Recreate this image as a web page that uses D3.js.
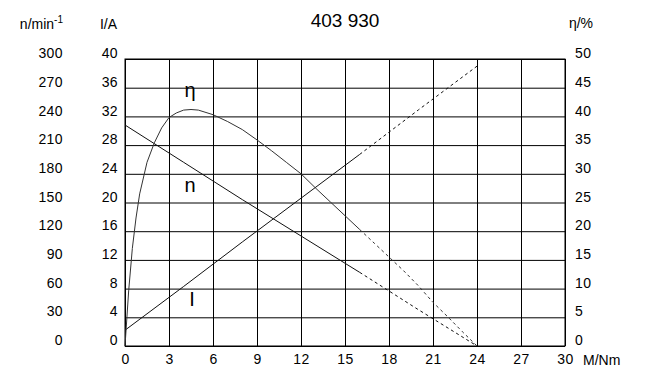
<!DOCTYPE html>
<html>
<head>
<meta charset="utf-8">
<script src="https://cdn.jsdelivr.net/npm/d3@7"></script>
<style>
  body { margin: 0; background: #fff; }
  svg { font-family: "Liberation Sans", Arial, sans-serif; }
</style>
</head>
<body>
<div id="chart"></div>
<script>
// values
var xTicks = [0, 3, 6, 9, 12, 15, 18, 21, 24, 27, 30];
var iTicks = [0, 4, 8, 12, 16, 20, 24, 28, 32, 36, 40];
var nTicks = [0, 30, 60, 90, 120, 150, 180, 210, 240, 270, 300];
var etaTicks = [0, 5, 10, 15, 20, 25, 30, 35, 40, 45, 50];

// current I/A
var curM = [0, 4, 8, 12, 16, 20, 24];
var curI = [2.2, 8.3, 14.5, 20.6, 26.7, 32.9, 39.0];
// speed n/min-1
var spdM = [0, 4, 8, 12, 16, 20, 24];
var spdN = [231, 192, 153, 115, 77, 38, 0];
// efficiency η/%
var effM = [0, 0.25, 0.5, 0.75, 1, 1.5, 2, 2.5, 3, 3.5, 4, 4.5, 5, 6, 7, 8, 9, 10, 11, 12, 13, 14, 15, 16, 17, 18, 19, 20, 21, 22, 23, 24];
var effEta = [0, 9.6, 17, 22.3, 26.5, 32, 35.4, 38, 39.8, 40.6, 41.1, 41.2, 41.1, 40.3, 39.1, 37.7, 35.9, 34, 32, 30, 27.5, 25.1, 22.7, 20.3, 17.9, 15.5, 13.1, 10.5, 7.6, 5.1, 2.5, 0];

var splitM = 16; // solid up to here, dashed after

var W = 645, H = 367;
var pLeft = 125, pRight = 565, pTop = 59, pBottom = 346;

var svg = d3.select("#chart").append("svg")
    .attr("width", W)
    .attr("height", H);

var x = d3.scaleLinear().domain([0, 30]).range([pLeft, pRight]);
var yI = d3.scaleLinear().domain([0, 40]).range([pBottom, pTop]);
var yN = d3.scaleLinear().domain([0, 300]).range([pBottom, pTop]);
var yE = d3.scaleLinear().domain([0, 50]).range([pBottom, pTop]);

// grid
svg.append("g")
    .attr("transform", "translate(0," + pBottom + ")")
    .call(d3.axisBottom(x).tickValues(xTicks).tickSize(-(pBottom - pTop)).tickFormat(""))
    .call(function(g) { g.select(".domain").remove(); })
    .selectAll("line").attr("stroke", "#000");

svg.append("g")
    .attr("transform", "translate(" + pLeft + ",0)")
    .call(d3.axisLeft(yI).tickValues(iTicks).tickSize(-(pRight - pLeft)).tickFormat(""))
    .call(function(g) { g.select(".domain").remove(); })
    .selectAll("line").attr("stroke", "#000");

svg.append("rect")
    .attr("x", pLeft).attr("y", pTop)
    .attr("width", pRight - pLeft).attr("height", pBottom - pTop)
    .attr("fill", "none").attr("stroke", "#000");

// tick labels
function labels(g) {
  g.select(".domain").remove();
  g.selectAll("line").remove();
  g.selectAll("text").attr("font-size", "14px").attr("fill", "#000")
      .style("letter-spacing", "0.4px");
  g.attr("font-family", null).attr("font-size", null);
}

svg.append("g")
    .attr("transform", "translate(0," + pBottom + ")")
    .call(d3.axisBottom(x).tickValues(xTicks).tickSize(0).tickPadding(8))
    .call(labels);

svg.append("g")
    .attr("transform", "translate(63,0)")
    .call(d3.axisLeft(yN).tickValues(nTicks).tickSize(0).tickPadding(0))
    .call(labels)
    .selectAll("text").attr("dy", "-0.1em");

svg.append("g")
    .attr("transform", "translate(118,0)")
    .call(d3.axisLeft(yI).tickValues(iTicks).tickSize(0).tickPadding(0))
    .call(labels)
    .selectAll("text").attr("dy", "-0.1em");

svg.append("g")
    .attr("transform", "translate(575,0)")
    .call(d3.axisRight(yE).tickValues(etaTicks).tickSize(0).tickPadding(0))
    .call(labels)
    .selectAll("text").attr("dy", "-0.1em");

// axis titles
var nt = svg.append("text").attr("x", 63).attr("y", 29).attr("font-size", "14px")
    .attr("text-anchor", "end").text("n/min");
nt.append("tspan").attr("dy", "-6").attr("font-size", "10px").text("-1");
svg.append("text").attr("x", 117).attr("y", 29).attr("font-size", "14px")
    .attr("text-anchor", "end").text("I/A");
svg.append("text").attr("x", 593).attr("y", 28).attr("font-size", "14px")
    .attr("text-anchor", "end").text("η/%");
svg.append("text").attr("x", 583).attr("y", 365).attr("font-size", "14px").text("M/Nm");
svg.append("text").attr("x", 345).attr("y", 27).attr("font-size", "19px")
    .attr("text-anchor", "middle").text("403 930");

// curves
function curve(ms, vs, yScale, color) {
  var pts = ms.map(function(m, i) { return [m, vs[i]]; });
  var line = d3.line().x(function(d) { return x(d[0]); }).y(function(d) { return yScale(d[1]); });
  svg.append("path")
      .datum(pts.filter(function(d) { return d[0] <= splitM; }))
      .attr("d", line)
      .attr("fill", "none").attr("stroke", color).attr("stroke-width", 1);
  svg.append("path")
      .datum(pts.filter(function(d) { return d[0] >= splitM; }))
      .attr("d", line)
      .attr("fill", "none").attr("stroke", color).attr("stroke-width", 1)
      .attr("stroke-dasharray", "3,3");
}

curve(curM, curI, yI, "#111");
curve(spdM, spdN, yN, "#111");
curve(effM, effEta, yE, "#333");

// curve names
svg.append("text").attr("x", 190).attr("y", 97).attr("font-size", "20px").attr("text-anchor", "middle").text("η");
svg.append("text").attr("x", 190).attr("y", 192).attr("font-size", "20px").attr("text-anchor", "middle").text("n");
svg.append("text").attr("x", 192).attr("y", 306).attr("font-size", "20px").attr("text-anchor", "middle").text("I");
</script>
</body>
</html>
